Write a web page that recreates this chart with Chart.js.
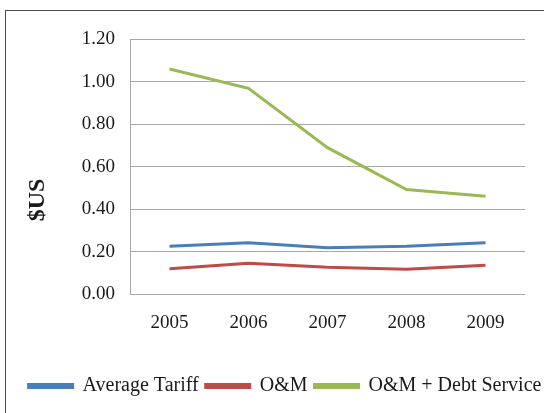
<!DOCTYPE html>
<html>
<head>
<meta charset="utf-8">
<script src="https://cdn.jsdelivr.net/npm/chart.js@4"></script>
<style>
  html, body { margin:0; padding:0; background:#fff; overflow:hidden; width:544px; height:413px; }
  #frame { position:absolute; left:5px; top:10px; width:620px; height:500px; border:1.5px solid #4a4a4a; box-sizing:border-box; }
  #wrap { position:absolute; left:0; top:0; width:570px; height:413px; }
</style>
</head>
<body>
<div id="frame"></div>
<div id="wrap"><canvas id="c" width="570" height="413"></canvas></div>
<script>
const years = ['2005', '2006', '2007', '2008', '2009'];
const averageTariff = [0.226, 0.242, 0.219, 0.226, 0.242];
const oAndM = [0.120, 0.146, 0.127, 0.117, 0.136];
const oAndMDebt = [1.059, 0.968, 0.689, 0.492, 0.461];
const yTicks = [0.00, 0.20, 0.40, 0.60, 0.80, 1.00, 1.20];
const seriesNames = ['Average Tariff', 'O&M', 'O&M + Debt Service'];
const seriesColors = ['#4A7EBB', '#BE4B48', '#98B954'];
const yAxisTitle = '$US';

const serif = "'Liberation Serif', 'DejaVu Serif', serif";
const seriesValues = [averageTariff, oAndM, oAndMDebt];

const yTitlePlugin = {
  id: 'yTitle',
  afterDraw(chart) {
    const ctx = chart.ctx;
    ctx.save();
    ctx.translate(37.5, 200);
    ctx.rotate(-Math.PI / 2);
    ctx.font = "bold 24px " + serif;
    ctx.fillStyle = '#1a1a1a';
    ctx.textAlign = 'center';
    ctx.textBaseline = 'middle';
    ctx.fillText(yAxisTitle, 0, 0);
    ctx.restore();
  }
};

new Chart(document.getElementById('c'), {
  type: 'line',
  data: {
    labels: years,
    datasets: seriesNames.map((name, i) => ({
      label: name,
      data: seriesValues[i],
      borderColor: seriesColors[i],
      backgroundColor: seriesColors[i],
      borderWidth: 3,
      pointRadius: 0,
      tension: 0,
      fill: false
    }))
  },
  plugins: [yTitlePlugin],
  options: {
    responsive: false,
    animation: false,
    layout: { padding: { left: 0, right: 0, top: 39, bottom: 7 } },
    plugins: {
      tooltip: { enabled: false },
      legend: {
        position: 'bottom',
        labels: {
          font: { family: serif, size: 20 },
          color: '#1a1a1a',
          boxWidth: 44,
          boxHeight: 3,
          padding: 7
        }
      }
    },
    scales: {
      x: {
        offset: true,
        grid: { display: false, drawTicks: false },
        border: { display: false },
        afterFit: (scale) => { scale.height = scale.height + 18; },
        ticks: { font: { family: serif, size: 19 }, color: '#1a1a1a', padding: 17 }
      },
      y: {
        min: 0,
        max: 1.2,
        afterBuildTicks: (scale) => { scale.ticks = yTicks.map(v => ({ value: v })); },
        afterFit: (scale) => { scale.width = 130; },
        grid: { color: '#a8a8a8', lineWidth: 1, drawTicks: false },
        border: { display: true, color: '#a8a8a8', width: 1 },
        ticks: {
          font: { family: serif, size: 19 },
          color: '#1a1a1a',
          padding: 15,
          callback: (v) => Number(v).toFixed(2)
        }
      },
      yRight: {
        type: 'linear',
        position: 'right',
        display: true,
        afterFit: (scale) => { scale.width = 45; },
        grid: { display: false, drawTicks: false },
        border: { display: false },
        ticks: { display: false }
      }
    }
  }
});
</script>
</body>
</html>
